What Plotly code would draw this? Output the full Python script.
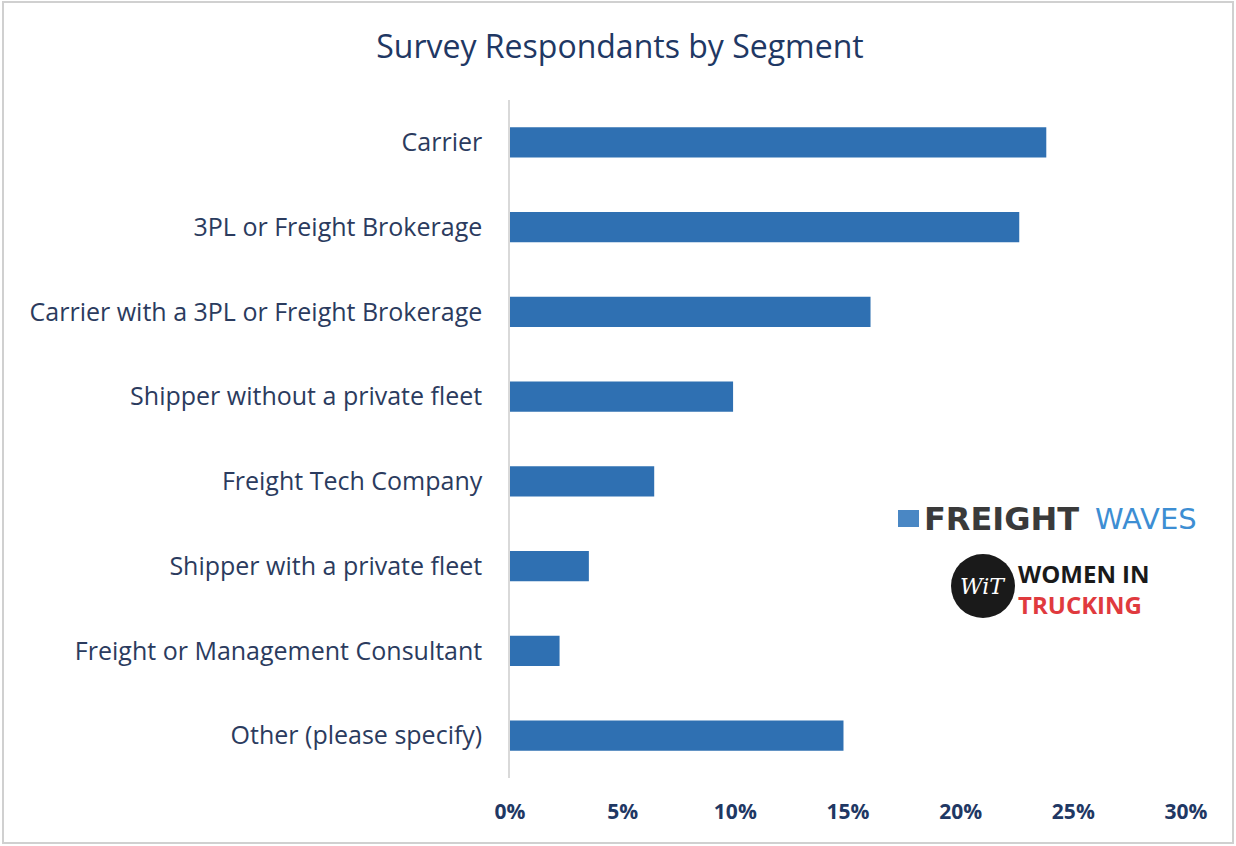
import plotly.graph_objects as go

categories = [
    "Carrier",
    "3PL or Freight Brokerage",
    "Carrier with a 3PL or Freight Brokerage",
    "Shipper without a private fleet",
    "Freight Tech Company",
    "Shipper with a private fleet",
    "Freight or Management Consultant",
    "Other (please specify)",
]
shares = [0.238, 0.226, 0.160, 0.099, 0.064, 0.035, 0.022, 0.148]
tick_vals = [0, 0.05, 0.10, 0.15, 0.20, 0.25, 0.30]
tick_text = ["0%", "5%", "10%", "15%", "20%", "25%", "30%"]

W, H = 1236, 846
L, R, T, B = 510, 50, 100, 68
PW, PH = W - L - R, H - T - B

def px(x):
    return (x - L) / PW

def py(y):
    return (H - B - y) / PH

navy = "#1f3864"
label_col = "#2b3b5e"
fig = go.Figure(go.Bar(
    x=shares, y=categories, orientation="h",
    marker=dict(color="#2f70b2", line=dict(width=0)),
))

fig.update_layout(
    width=W, height=H,
    margin=dict(l=L, r=R, t=T, b=B),
    paper_bgcolor="white", plot_bgcolor="white",
    font=dict(family="'Open Sans', sans-serif", color=label_col),
    title=dict(text="Survey Respondants by Segment", x=620 / W, xanchor="center",
               y=1 - 47 / H, yanchor="middle",
               font=dict(size=32, color=navy, family="'Open Sans', sans-serif")),
    bargap=0.645,
    showlegend=False,
)
fig.update_xaxes(range=[0, 0.30], tickvals=tick_vals, ticktext=tick_text,
                 showgrid=False, zeroline=False, showline=False,
                 tickfont=dict(size=21, color=navy, family="'Open Sans', sans-serif", weight="bold"),
                 ticklabelstandoff=19)
fig.update_yaxes(categoryorder="array", categoryarray=categories[::-1],
                 showgrid=False, showline=True, linecolor="#d9d9d9", linewidth=1.5,
                 tickfont=dict(size=25, color=label_col),
                 ticklabelstandoff=21)

shapes = []
shapes.append(dict(type="rect", xref="paper", yref="paper",
                   x0=px(3), x1=px(1233), y0=py(843), y1=py(2),
                   line=dict(color="#d0d0d0", width=2), fillcolor="rgba(0,0,0,0)", layer="below"))
shapes.append(dict(type="rect", xref="paper", yref="paper",
                   x0=px(898), x1=px(919), y0=py(527), y1=py(510),
                   line=dict(width=0), fillcolor="#4a87c4"))
shapes.append(dict(type="circle", xref="paper", yref="paper",
                   x0=px(951), x1=px(1015), y0=py(618), y1=py(554),
                   line=dict(width=0), fillcolor="#1a1a1a"))
fig.update_layout(shapes=shapes)

annotations = [
    dict(text="<b>FREIGHT</b>",
         x=px(922), y=py(519), xref="paper", yref="paper", xanchor="left", yanchor="middle",
         showarrow=False, font=dict(size=32, color="#3a3a3a", family="'DejaVu Sans', sans-serif")),
    dict(text="WAVES",
         x=px(1093), y=py(519), xref="paper", yref="paper", xanchor="left", yanchor="middle",
         showarrow=False, font=dict(size=29, color="#3d8ed3", family="'DejaVu Sans', sans-serif")),
    dict(text="<i>WiT</i>", x=px(983), y=py(586), xref="paper", yref="paper",
         xanchor="center", yanchor="middle", showarrow=False,
         font=dict(size=22, color="white", family="'DejaVu Serif', serif")),
    dict(text="WOMEN IN<br><span style='color:#e03a3e'>TRUCKING</span>",
         x=px(1016), y=py(589), xref="paper", yref="paper",
         xanchor="left", yanchor="middle", align="left", showarrow=False,
         font=dict(size=24, color="#1a1a1a", family="'Open Sans', sans-serif", weight=700)),
]
fig.update_layout(annotations=annotations)

fig.write_html("out.html", config={"displayModeBar": False},
               post_script="document.body.style.margin='0';document.body.style.overflow='hidden';")
